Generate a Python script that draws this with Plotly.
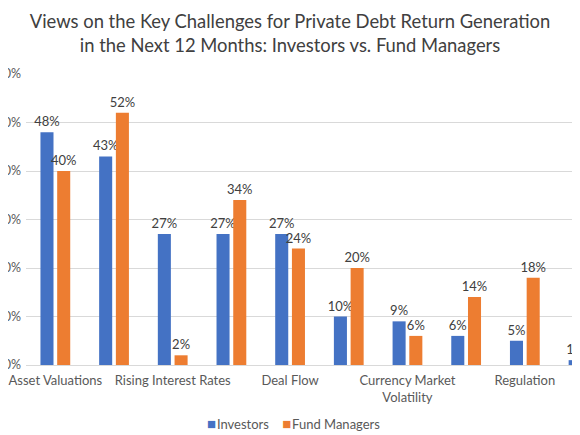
import numpy as np
import plotly.graph_objects as go

# Excel skipped every other category label, so only these names are readable
categories = ["Asset Valuations", "", "Rising Interest Rates", "", "Deal Flow", "",
              "Currency Market<br>Volatility", "", "Regulation", ""]
investors = [48, 43, 27, 27, 27, 10, 9, 6, 5, 1]
fund_managers = [40, 52, 2, 34, 24, 20, 6, 14, 18, None]  # last one is off the picture

series_names = ["Investors", "Fund Managers"]
series_colors = ["#4472C4", "#ED7D31"]

x = np.arange(len(categories))
tick_idx = [i for i, c in enumerate(categories) if c]
tick_labels = [categories[i] for i in tick_idx]

fig = go.Figure()
for name, color, vals in zip(series_names, series_colors, [investors, fund_managers]):
    fig.add_trace(go.Bar(
        x=x, y=[v / 100 if v is not None else None for v in vals],
        name=name, marker_color=color, marker_line_width=0,
        text=[f"{v}%" if v is not None else "" for v in vals],
        textposition="outside", constraintext="none", cliponaxis=False,
        textfont=dict(family="Lato", size=13, color="#404040"),
        showlegend=False,
    ))

# legend drawn as one line of text: small coloured square + name
legend_text = "\u00a0\u00a0\u00a0\u00a0".join(
    f"<span style='color:{c};font-size:15px'>\u25a0</span>\u200a{n}"
    for n, c in zip(series_names, series_colors)
)

# page body has an 8px margin, so the figure is 8px smaller and shifted back
fig.update_layout(
    width=572, height=427,
    margin=dict(l=18, r=0, t=66, b=70),
    paper_bgcolor="white", plot_bgcolor="white",
    font=dict(family="Lato", size=12.5, color="#595959"),
    title=dict(
        text="Views on the Key Challenges for Private Debt Return Generation<br>in the Next 12 Months: Investors vs. Fund Managers",
        x=0.493, xanchor="center", y=0.953, yanchor="top",
        font=dict(family="Lato", size=18.4, color="#404040"),
    ),
    barmode="group", bargap=0.43, bargroupgap=0.22,
    annotations=[dict(
        text=legend_text, xref="paper", yref="paper", x=0.483, y=-0.198,
        xanchor="center", yanchor="middle", showarrow=False,
        font=dict(family="Lato", size=13, color="#595959"),
    )],
    xaxis=dict(range=[-0.5, 8.94], tickmode="array", tickvals=tick_idx, ticktext=tick_labels,
               showgrid=False, showline=True, linecolor="#D9D9D9", ticks="",
               ticklabelstandoff=3,
               tickfont=dict(size=13, color="#595959"), automargin=False),
    yaxis=dict(range=[0, 0.6], dtick=0.1, tickformat=".0%", showgrid=True,
               gridcolor="#D9D9D9", zeroline=False, ticks="", ticklabelstandoff=4,
               tickfont=dict(size=12.5, color="#595959"), automargin=False),
)

fig.write_html("out.html")
